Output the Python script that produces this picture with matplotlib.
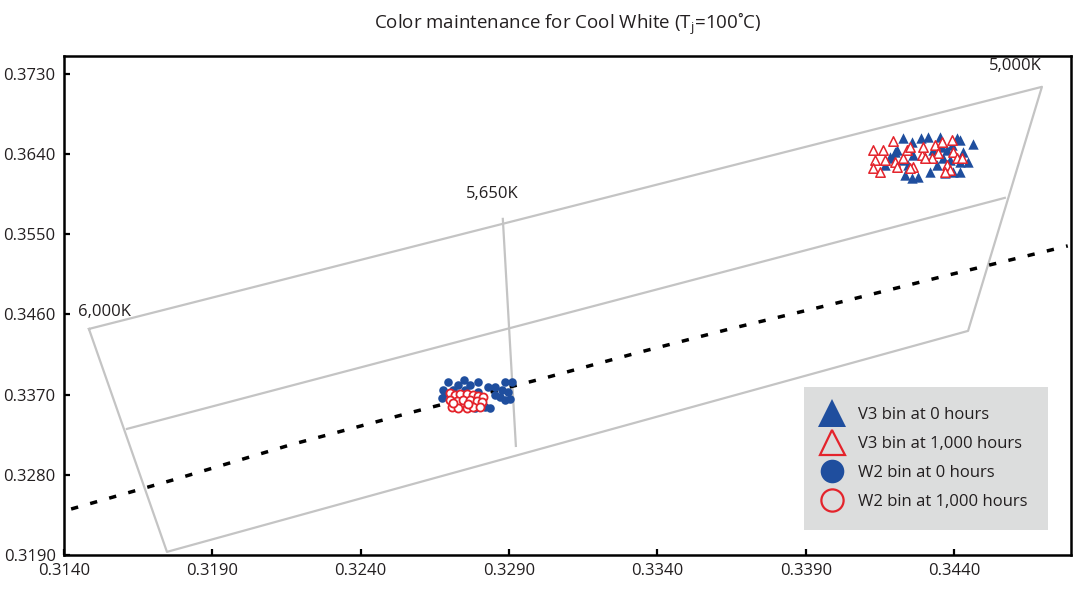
import matplotlib.pyplot as plt
from matplotlib.lines import Line2D

plt.rcParams['font.family'] = ['Open Sans', 'DejaVu Sans']
plt.rcParams['mathtext.fontset'] = 'custom'
plt.rcParams['mathtext.rm'] = 'Open Sans'

# chromaticity bin quadrilateral (x, y)
outer_x = [0.31484, 0.34696, 0.34447, 0.31747, 0.31484]
outer_y = [0.34437, 0.37154, 0.34415, 0.31935, 0.34437]
mid_x = [0.31612, 0.34571]
mid_y = [0.33315, 0.35908]
split_x = [0.32879, 0.32923]
split_y = [0.35672, 0.33124]

# black body locus
locus_x = [0.31424, 0.31767, 0.32162, 0.32576, 0.33021, 0.33331, 0.33644, 0.33965, 0.34369, 0.34783]
locus_y = [0.32416, 0.32742, 0.33135, 0.33505, 0.33887, 0.34168, 0.34437, 0.34695, 0.35032, 0.35369]

# V3 bin
v3_0h_x = [0.34227, 0.34288, 0.34312, 0.34258, 0.34207, 0.34184, 0.34194, 0.34167, 0.34227, 0.34234,
           0.34258, 0.34278, 0.34318, 0.34342, 0.34362, 0.34359, 0.34409, 0.34420, 0.34463, 0.34430,
           0.34420, 0.34446, 0.34396, 0.34420, 0.34369, 0.34329, 0.34302, 0.34376, 0.34393, 0.34261,
           0.34200, 0.34386, 0.34352, 0.34244]
v3_0h_y = [0.36582, 0.36582, 0.36593, 0.36537, 0.36447, 0.36368, 0.36357, 0.36278, 0.36335, 0.36166,
           0.36133, 0.36144, 0.36200, 0.36278, 0.36357, 0.36481, 0.36582, 0.36559, 0.36514, 0.36424,
           0.36312, 0.36312, 0.36200, 0.36200, 0.36189, 0.36447, 0.36368, 0.36447, 0.36503, 0.36391,
           0.36424, 0.36335, 0.36593, 0.36278]
v3_1000h_x = [0.34194, 0.34126, 0.34160, 0.34133, 0.34167, 0.34126, 0.34150, 0.34200, 0.34207, 0.34227,
              0.34241, 0.34251, 0.34261, 0.34251, 0.34291, 0.34295, 0.34335, 0.34359, 0.34345, 0.34325,
              0.34393, 0.34396, 0.34409, 0.34426, 0.34376, 0.34386, 0.34369, 0.34302]
v3_1000h_y = [0.36548, 0.36447, 0.36447, 0.36335, 0.36335, 0.36245, 0.36200, 0.36312, 0.36256, 0.36357,
              0.36447, 0.36481, 0.36256, 0.36245, 0.36391, 0.36481, 0.36503, 0.36537, 0.36413, 0.36357,
              0.36559, 0.36424, 0.36357, 0.36357, 0.36278, 0.36222, 0.36200, 0.36357]

# W2 bin
w2_0h_x = [0.32694, 0.32748, 0.32795, 0.32829, 0.32852, 0.32886, 0.32910, 0.32677, 0.32711, 0.32751,
           0.32795, 0.32876, 0.32896, 0.32674, 0.32869, 0.32886, 0.32903, 0.32819, 0.32836, 0.32785,
           0.32684, 0.32728, 0.32768, 0.32852]
w2_0h_y = [0.33842, 0.33865, 0.33842, 0.33786, 0.33786, 0.33842, 0.33842, 0.33752, 0.33752, 0.33752,
           0.33730, 0.33752, 0.33730, 0.33663, 0.33674, 0.33640, 0.33651, 0.33562, 0.33550, 0.33550,
           0.33719, 0.33809, 0.33809, 0.33696]
w2_1000h_x = [0.32701, 0.32718, 0.32735, 0.32758, 0.32778, 0.32795, 0.32812, 0.32701, 0.32724, 0.32745,
              0.32768, 0.32792, 0.32809, 0.32708, 0.32728, 0.32758, 0.32778, 0.32802, 0.32711, 0.32761]
w2_1000h_y = [0.33719, 0.33696, 0.33708, 0.33708, 0.33696, 0.33685, 0.33674, 0.33640, 0.33629, 0.33640,
              0.33640, 0.33629, 0.33618, 0.33562, 0.33550, 0.33550, 0.33562, 0.33562, 0.33607, 0.33595]

cct_labels = ['6,000K', '5,650K', '5,000K']
cct_x = [0.31447, 0.32755, 0.34696]
cct_y = [0.34628, 0.35953, 0.37389]
cct_ha = ['left', 'left', 'right']

xticks = [0.3140, 0.3190, 0.3240, 0.3290, 0.3340, 0.3390, 0.3440]
yticks = [0.3190, 0.3280, 0.3370, 0.3460, 0.3550, 0.3640, 0.3730]

blue = '#1f4e9e'
red = '#e4232b'
grey = '#c4c4c4'
textc = '#231f20'

fig = plt.figure(figsize=(10.78, 5.92), dpi=100)
ax = fig.add_axes([64 / 1078, 37 / 592, 1007 / 1078, 499 / 592])

ax.plot(outer_x, outer_y, color=grey, lw=1.6, zorder=1)
ax.plot(mid_x, mid_y, color=grey, lw=1.6, zorder=1)
ax.plot(split_x, split_y, color=grey, lw=1.6, zorder=1)
ax.plot(locus_x, locus_y, color='black', lw=2.5, linestyle=(0, (2.1, 3.6)),
        dash_capstyle='butt', zorder=2)

ax.scatter(v3_0h_x, v3_0h_y, marker='^', s=56, color=blue, linewidths=0, zorder=3)
ax.scatter(v3_1000h_x, v3_1000h_y, marker='^', s=46, facecolor='white', edgecolor=red,
           linewidths=1.1, zorder=4)
ax.scatter(w2_0h_x, w2_0h_y, marker='o', s=38, color=blue, linewidths=0, zorder=3)
ax.scatter(w2_1000h_x, w2_1000h_y, marker='o', s=34, facecolor='white', edgecolor=red,
           linewidths=1.3, zorder=4)

for lab, x, y, ha in zip(cct_labels, cct_x, cct_y, cct_ha):
    ax.text(x, y, lab, ha=ha, va='center', fontsize=12, color=textc)

ax.set_xlim(0.3140, 0.34794)
ax.set_ylim(0.3190, 0.3750)
ax.set_xticks(xticks)
ax.set_yticks(yticks)
ax.set_xticklabels([f'{t:.4f}' for t in xticks])
ax.set_yticklabels([f'{t:.4f}' for t in yticks])
ax.tick_params(direction='in', length=4, width=1.6, labelsize=12, labelcolor=textc, pad=6)
for sp in ax.spines.values():
    sp.set_linewidth(1.8)
    sp.set_color('black')

ax.set_title(r'Color maintenance for Cool White (T$_\mathregular{j}$=100˚C)',
             fontsize=13.5, color=textc, pad=20)

handles = [
    Line2D([], [], ls='none', marker='^', ms=20, color=blue, mew=0),
    Line2D([], [], ls='none', marker='^', ms=18, mfc='none', mec=red, mew=1.6),
    Line2D([], [], ls='none', marker='o', ms=17, color=blue, mew=0),
    Line2D([], [], ls='none', marker='o', ms=16, mfc='none', mec=red, mew=1.6),
]
labels = ['V3 bin at 0 hours', 'V3 bin at 1,000 hours', 'W2 bin at 0 hours', 'W2 bin at 1,000 hours']
leg = ax.legend(handles, labels, loc='upper left', bbox_to_anchor=(0.735, 0.3367),
                borderaxespad=0, frameon=True, fancybox=False, facecolor='#dcdddd',
                edgecolor='none', framealpha=1, fontsize=12, labelspacing=0.78,
                handletextpad=1.05, borderpad=1.2, handlelength=1.0)
for t in leg.get_texts():
    t.set_color(textc)

fig.savefig('out.png', dpi=100)
